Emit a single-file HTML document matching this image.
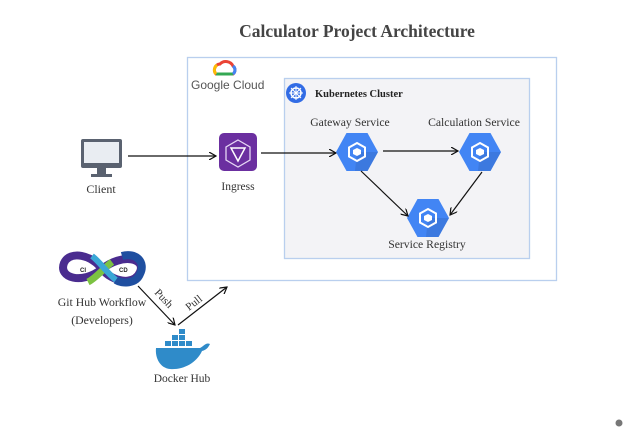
<!DOCTYPE html>
<html><head><meta charset="utf-8"><style>
html,body{margin:0;padding:0;background:#fff;}
svg{display:block}
text{font-family:"Liberation Serif",serif;fill:#333;}
</style></head><body>
<svg width="623" height="427" viewBox="0 0 623 427" xmlns="http://www.w3.org/2000/svg">
<defs>
<marker id="ah" markerWidth="8" markerHeight="8" refX="7" refY="4" orient="auto" markerUnits="userSpaceOnUse">
<path d="M0,0 L7,4 L0,8" fill="none" stroke="#111" stroke-width="1.2"/></marker>
<g id="hex">
<polygon points="-21,0 -10.5,-19 10.5,-19 21,0 10.5,19 -10.5,19" fill="#4285f4"/>
<polygon points="0,0 21,0 10.5,19 -2,19" fill="#3b74d6" opacity="0.7"/>
<polygon points="0,-9 8,-4.5 8,4.5 0,9 -8,4.5 -8,-4.5" fill="none" stroke="#fff" stroke-width="2"/>
<polygon points="0,-4 4,-2 4,2 0,4 -4,2 -4,-2" fill="#fff"/>
</g>
</defs>
<text x="357" y="37" text-anchor="middle" font-size="17.5" font-weight="bold" style="fill:#444">Calculator Project Architecture</text>
<rect x="187.5" y="57.5" width="369" height="223" fill="#fff" stroke="#b9cfee" stroke-width="1.3"/>
<rect x="284.5" y="78.5" width="245" height="180" fill="#f3f3f6" stroke="#b9cfee" stroke-width="1.3"/>
<path d="M216,74 a6,6 0 0 1 4,-10 a8,8 0 0 1 13,2 a5,5 0 0 1 0,8 z" fill="none" stroke="#ea4335" stroke-width="3"/>
<path d="M216,74 h17" stroke="#34a853" stroke-width="3"/>
<path d="M233,74 a5,5 0 0 0 0,-8" fill="none" stroke="#4285f4" stroke-width="3"/>
<path d="M216,74 a6,6 0 0 1 1,-9" fill="none" stroke="#fbbc05" stroke-width="3"/>
<text x="191" y="89" font-size="12" style="font-family:'Liberation Sans',sans-serif;fill:#555">Google Cloud</text>
<circle cx="296" cy="93" r="10" fill="#326ce5"/>
<circle cx="296" cy="93" r="5" fill="none" stroke="#fff" stroke-width="1.5"/>
<path d="M296,86 V100 M289,93 H303 M291,88 L301,98 M301,88 L291,98" stroke="#fff" stroke-width="1"/>
<text x="315" y="97" font-size="10.5" font-weight="bold" style="fill:#222">Kubernetes Cluster</text>
<rect x="81" y="139" width="41" height="29" rx="2" fill="#5a6270"/>
<rect x="84" y="142" width="35" height="21" fill="#e9edf2"/>
<rect x="97" y="168" width="9" height="6" fill="#5a6270"/>
<rect x="91" y="174" width="21" height="3" fill="#5a6270"/>
<text x="101" y="193" font-size="12" text-anchor="middle">Client</text>
<line x1="128" y1="156" x2="216" y2="156" stroke="#111" stroke-width="1.2" marker-end="url(#ah)"/>
<rect x="219" y="133" width="38" height="38" rx="5" fill="#6b2fa0"/>
<polygon points="238,140 250,147 250,160 238,167 226,160 226,147" fill="none" stroke="#e6d6f5" stroke-width="1.3"/>
<polygon points="231,148 245,148 238,161" fill="none" stroke="#fff" stroke-width="1.5"/>
<text x="238" y="190" font-size="11.5" text-anchor="middle">Ingress</text>
<line x1="261" y1="153" x2="336" y2="153" stroke="#111" stroke-width="1.2" marker-end="url(#ah)"/>
<text x="350" y="126" font-size="11.7" text-anchor="middle">Gateway Service</text>
<text x="474" y="126" font-size="11.7" text-anchor="middle">Calculation Service</text>
<use href="#hex" x="357" y="152"/>
<use href="#hex" x="480" y="152"/>
<use href="#hex" x="428" y="218"/>
<text x="427" y="248" font-size="11.7" text-anchor="middle">Service Registry</text>
<line x1="383" y1="151" x2="458" y2="151" stroke="#111" stroke-width="1.2" marker-end="url(#ah)"/>
<line x1="361" y1="171" x2="408" y2="216" stroke="#111" stroke-width="1.2" marker-end="url(#ah)"/>
<line x1="482" y1="172" x2="450" y2="215" stroke="#111" stroke-width="1.2" marker-end="url(#ah)"/>
<path d="M102,269 C92,255 70,250 64,263 C58,278 82,285 102,269 C122,253 146,258 140,272 C134,286 112,282 102,269 Z" fill="none" stroke="#4a2c8f" stroke-width="8"/>
<path d="M88,282 C96,278 104,268 112,262" fill="none" stroke="#7cc242" stroke-width="7"/>
<path d="M92,256 C100,262 106,272 116,280" fill="none" stroke="#3aa7d6" stroke-width="6"/>
<path d="M122,256 C136,252 146,262 140,274 C136,284 122,284 116,280" fill="none" stroke="#1f4fa0" stroke-width="8"/>
<text x="80" y="272" font-size="6" font-weight="bold" style="font-family:'Liberation Sans',sans-serif;fill:#222">CI</text>
<text x="119" y="272" font-size="6" font-weight="bold" style="font-family:'Liberation Sans',sans-serif;fill:#222">CD</text>
<text x="102" y="306" font-size="11.8" text-anchor="middle">Git Hub Workflow</text>
<text x="102" y="324" font-size="11.8" text-anchor="middle">(Developers)</text>
<line x1="138" y1="286" x2="175" y2="325" stroke="#111" stroke-width="1.2" marker-end="url(#ah)"/>
<line x1="178" y1="325" x2="227" y2="287" stroke="#111" stroke-width="1.2" marker-end="url(#ah)"/>
<text x="0" y="0" font-size="11" transform="translate(154,293) rotate(47)">Push</text>
<text x="0" y="0" font-size="11" transform="translate(189,311) rotate(-38)">Pull</text>
<g fill="#2f8bc9">
<rect x="165" y="341" width="6" height="5"/><rect x="172" y="341" width="6" height="5"/><rect x="179" y="341" width="6" height="5"/>
<rect x="172" y="335" width="6" height="5"/><rect x="179" y="335" width="6" height="5"/><rect x="179" y="329" width="6" height="5"/>
<rect x="186" y="341" width="6" height="5"/>
<path d="M156,348 H200 C204,346 206,342 210,344 C208,348 206,350 202,351 C196,364 182,370 170,369 C160,368 155,358 156,348 Z"/>
</g>
<text x="182" y="382" font-size="11.5" text-anchor="middle">Docker Hub</text>
<circle cx="619" cy="423" r="3.5" fill="#777"/>
</svg>
</body></html>
